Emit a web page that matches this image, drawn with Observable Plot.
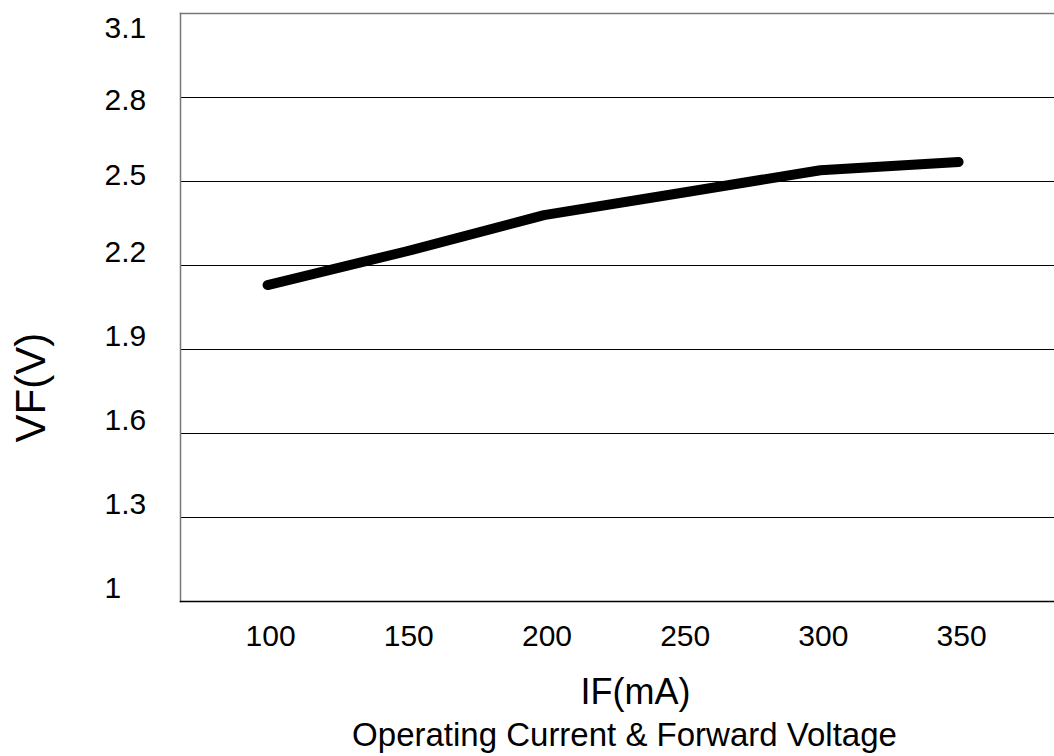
<!DOCTYPE html>
<html>
<head>
<meta charset="utf-8">
<script src="https://cdn.jsdelivr.net/npm/d3@7"></script>
<script src="https://cdn.jsdelivr.net/npm/@observablehq/plot@0.6"></script>
<style>
  body { margin: 0; background: #fff; font-family: "Liberation Sans", Arial, sans-serif; }
  #chart svg { overflow: visible; }
  #title { width: 859px; padding-left: 195px; text-align: center; font-size: 33px; line-height: 46px; color: #000; }
</style>
</head>
<body>
<div id="chart"></div>
<div id="title">Operating Current &amp; Forward Voltage</div>
<script>
// Data
const currents = [100, 150, 200, 250, 300, 350];          // IF (mA)
const voltages = [2.13, 2.25, 2.38, 2.46, 2.54, 2.57];     // VF (V)
const yTicks = [1, 1.3, 1.6, 1.9, 2.2, 2.5, 2.8, 3.1];
const xTicks = [100, 150, 200, 250, 300, 350];
const xDomain = [68.5, 384.7];
const yDomain = [1, 3.1];

const data = currents.map((c, i) => ({IF: c, VF: voltages[i]}));
const font = "'Liberation Sans', Arial, sans-serif";

// y tick labels sit at slightly different offsets from their gridlines in the reference
const yLabelGroups = [
  {ticks: yTicks.filter(t => t === 3.1), dy: 15},
  {ticks: yTicks.filter(t => t === 2.8), dy: 3},
  {ticks: yTicks.filter(t => t === 2.5), dy: -6},
  {ticks: yTicks.filter(t => t < 2.5), dy: -13}
];

const chart = Plot.plot({
  width: 1054,
  height: 712,
  marginTop: 13,
  marginLeft: 180,
  marginRight: 0,
  marginBottom: 111,
  style: {fontFamily: font, background: "white", color: "black", overflow: "visible"},
  x: {domain: xDomain},
  y: {domain: yDomain},
  marks: [
    Plot.gridY(yTicks.slice(1, -1), {stroke: "black", strokeOpacity: 1, strokeWidth: 1.2}),
    Plot.frame({anchor: "top", stroke: "#777", strokeWidth: 1.5}),
    Plot.frame({anchor: "left", stroke: "#777", strokeWidth: 1.5}),
    Plot.frame({anchor: "bottom", stroke: "black", strokeWidth: 1.5}),
    ...yLabelGroups.map(g => Plot.axisY(g.ticks, {tickSize: 0, tickPadding: 76, textAnchor: "start", fontSize: 30, dy: g.dy, label: null, tickFormat: d => String(d)})),
    Plot.axisX(xTicks, {tickSize: 0, tickPadding: 23, fontSize: 30, dx: 3, label: null, tickFormat: d => String(d)}),
    Plot.lineY(data, {x: "IF", y: "VF", stroke: "black", strokeWidth: 10, strokeLinecap: "round", strokeLinejoin: "round"}),
    Plot.text(["IF(mA)"], {frameAnchor: "bottom", dx: 18, dy: 91, fontSize: 36, lineAnchor: "middle", fill: "black"}),
    Plot.text(["VF(V)"], {frameAnchor: "left", rotate: -90, dx: -149, dy: 135, fontSize: 42, fill: "black"})
  ]
});
document.getElementById("chart").appendChild(chart);
</script>
</body>
</html>
